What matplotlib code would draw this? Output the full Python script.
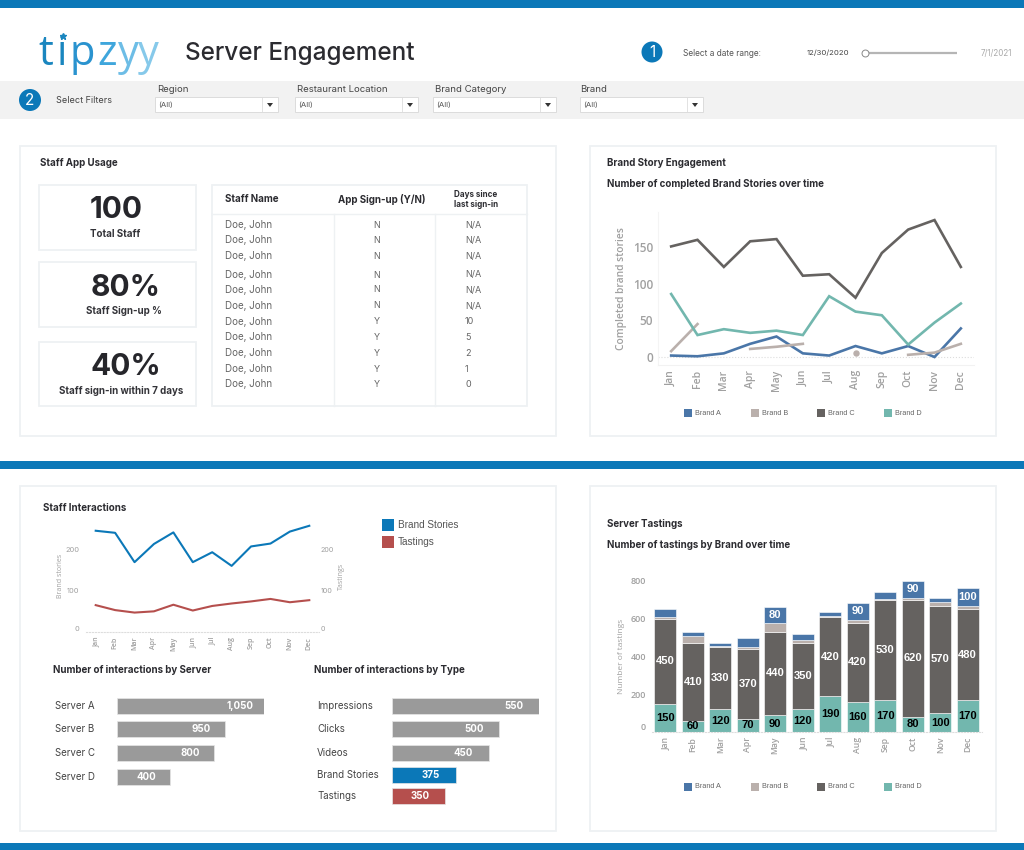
import numpy as np
import matplotlib
matplotlib.use('Agg')
import matplotlib.pyplot as plt
from matplotlib.patches import Rectangle, Circle, Polygon

W, H = 1024, 850
FONT = 'Inter'
CHART_FONT = 'Open Sans'
plt.rcParams['font.family'] = [FONT, 'DejaVu Sans']

months = ['Jan', 'Feb', 'Mar', 'Apr', 'May', 'Jun', 'Jul', 'Aug', 'Sep', 'Oct', 'Nov', 'Dec']

# completed brand stories per brand
stories_a = [2, 1, 5, 18, 28, 5, 2, 15, 5, 15, 0, 39]
stories_b = [8, 45, np.nan, 11, 14, 18, np.nan, 6, np.nan, 3, 6, 18]
stories_c = [151, 160, 123, 158, 161, 111, 113, 81, 142, 174, 187, 123]
stories_d = [86, 30, 38, 33, 36, 30, 83, 62, 57, 17, 47, 73]

# tastings per brand (stack order D, C, B, A)
tastings_a = [40, 25, 20, 50, 80, 30, 23, 90, 40, 90, 20, 100]
tastings_b = [10, 37, 3, 10, 50, 20, 3, 15, 2, 10, 20, 15]
tastings_c = [450, 410, 330, 370, 440, 350, 420, 420, 530, 620, 570, 480]
tastings_d = [150, 60, 120, 70, 90, 120, 190, 160, 170, 80, 100, 170]
labelled_a = [False, False, False, False, True, False, False, True, False, True, False, True]

# staff interactions
inter_stories = [245, 240, 169, 213, 241, 169, 193, 160, 207, 214, 243, 257]
inter_tastings = [65, 53, 47, 50, 66, 52, 63, 69, 74, 80, 72, 77]

# horizontal bars, drawn length differs from the printed number in the original
servers = ['Server A', 'Server B', 'Server C', 'Server D']
server_labels = ['1,050', '950', '800', '400']
server_lengths = [1050, 771, 693, 379]
types = ['Impressions', 'Clicks', 'Videos', 'Brand Stories', 'Tastings']
type_labels = ['550', '500', '450', '375', '350']
type_lengths = [550, 402, 362, 241, 200]

# staff table
staff_names = ['Doe, John'] * 11
staff_signup = ['N', 'N', 'N', 'N', 'N', 'N', 'Y', 'Y', 'Y', 'Y', 'Y']
staff_days = ['N/A', 'N/A', 'N/A', 'N/A', 'N/A', 'N/A', '10', '5', '2', '1', '0']
row_y = [225, 240, 256, 275, 290, 306, 322, 337, 353, 369, 384]

brand_names = ['Brand A', 'Brand B', 'Brand C', 'Brand D']

BLUE = '#0b78b8'
RED = '#b54f4d'
C_A = '#4a76a8'
C_B = '#bab0ac'
C_C = '#656260'
C_D = '#72b7ae'
GREY = '#9a9a9a'
TICK = '#a0a0a0'
BORDER = '#eef1f3'
DARK = '#2b2b30'


def px_axes(x0, y0, x1, y1):
    ax = fig.add_axes([x0 / W, 1 - y1 / H, (x1 - x0) / W, (y1 - y0) / H])
    ax.patch.set_alpha(0)
    return ax


def box(x0, y0, x1, y1, fc='white', ec=BORDER, lw=1.3):
    bg.add_patch(Rectangle((x0, y0), x1 - x0, y1 - y0, fc=fc, ec=ec, lw=lw))


def txt(x, y, s, size=7, color=DARK, weight='normal', ha='left', font=None):
    bg.text(x, y, s, fontsize=size, color=color, fontweight=weight, ha=ha, va='center',
            family=font or FONT)


def style_month_axis(ax, size):
    ax.set_xticks(range(12))
    ax.set_xticklabels(months, rotation=90, fontsize=size, color=TICK, family=CHART_FONT,
                       fontweight='semibold')
    ax.tick_params(axis='both', length=0)
    for s in ax.spines.values():
        s.set_visible(False)


fig = plt.figure(figsize=(W / 100, H / 100), dpi=100, facecolor='white')
bg = fig.add_axes([0, 0, 1, 1])
bg.set_xlim(0, W)
bg.set_ylim(H, 0)
bg.axis('off')

# bands
bg.add_patch(Rectangle((0, 0), W, 8, fc=BLUE, ec='none'))
bg.add_patch(Rectangle((0, 461), W, 8, fc=BLUE, ec='none'))
bg.add_patch(Rectangle((0, 843), W, 7, fc=BLUE, ec='none'))
bg.add_patch(Rectangle((0, 81), W, 38, fc='#f2f2f2', ec='none'))

# logo
logo = [('t', 46, '#1a86bf'), ('i', 62, '#1a86bf'), ('p', 82, '#2a93cf'),
        ('z', 107, '#3fa6dc'), ('y', 128, '#6dbde6'), ('y', 148, '#86c9ea')]
for ch, x, col in logo:
    bg.text(x, 65, ch, fontsize=30, color=col, ha='center', va='baseline', family='Open Sans')
bg.plot([63], [36], marker='*', ms=5, color='#1a86bf', ls='none')

txt(185, 53, 'Server Engagement', size=17.5, color=DARK, weight='medium')

# date range
for cx, cy, r, n in [(652, 52, 10.5, '1'), (30, 100, 11, '2')]:
    bg.add_patch(Circle((cx, cy), r, fc=BLUE, ec='none'))
    bg.text(cx, cy, n, fontsize=11, color='white', ha='center', va='center')
txt(683, 53, 'Select a date range:', size=6.0, color='#555555')
txt(807, 53, '12/30/2020', size=5.6, color='#444444')
bg.plot([865, 957], [53, 53], color='#b5b5b5', lw=1.6, solid_capstyle='butt')
bg.plot([865], [53], marker='o', ms=5, mfc='white', mec='#888888', mew=0.7)
txt(981, 53, '7/1/2021', size=5.8, color='#aaaaaa')

# filters
txt(56, 100, 'Select Filters', size=6.5, color='#444444')
filters = ['Region', 'Restaurant Location', 'Brand Category', 'Brand']
filter_x = [155, 295, 433, 580]
for name, x in zip(filters, filter_x):
    txt(x + 2 if name != 'Brand' else x, 89, name, size=6.9, color='#444444')
    box(x, 97, x + 123, 112, ec='#dcdcdc', lw=0.7)
    txt(x + 3, 104.5, '(All)', size=5.6, color='#555555')
    bg.plot([x + 107, x + 107], [97, 112], color='#dddddd', lw=0.6)
    bg.add_patch(Polygon([[x + 112, 103], [x + 118, 103], [x + 115, 107]], fc='#333333', ec='none'))

# panels
box(20, 146, 556, 436)
box(590, 146, 996, 436)
box(20, 486, 556, 831)
box(590, 486, 996, 831)

txt(40, 163, 'Staff App Usage', size=7, weight='bold')
txt(607, 163, 'Brand Story Engagement', size=7, weight='bold')
txt(607, 184, 'Number of completed Brand Stories over time', size=7, weight='bold')
txt(43, 508, 'Staff Interactions', size=7, weight='bold')
txt(607, 524, 'Server Tastings', size=7, weight='bold')
txt(607, 545, 'Number of tastings by Brand over time', size=7, weight='bold')
txt(53, 670, 'Number of interactions by Server', size=7, weight='bold')
txt(314, 670, 'Number of interactions by Type', size=7, weight='bold')

# KPI cards
kpis = [('100', 'Total Staff', 185, 250, 116, 115, 210, 234),
        ('80%', 'Staff Sign-up %', 262, 327, 126, 124, 288, 311),
        ('40%', 'Staff sign-in within 7 days', 342, 406, 126, 121, 367, 391)]
for big, small, y0, y1, xb, xs, yb, ys in kpis:
    box(39, y0, 196, y1)
    txt(xb, yb, big, size=21.5, weight='bold', ha='center', color='#26262b')
    txt(xs, ys, small, size=7, weight='bold', ha='center', color='#333338')

# staff table
box(212, 185, 527, 406)
bg.plot([212, 527], [214, 214], color=BORDER, lw=1)
bg.plot([334, 334], [214, 406], color=BORDER, lw=1)
bg.plot([435, 435], [214, 406], color=BORDER, lw=1)
txt(225, 199, 'Staff Name', size=7, weight='bold')
txt(382, 199, 'App Sign-up (Y/N)', size=7, weight='bold', ha='center')
txt(454, 194, 'Days since', size=5.8, weight='bold')
txt(454, 204, 'last sign-in', size=5.8, weight='bold')
for y, name, su, d in zip(row_y, staff_names, staff_signup, staff_days):
    txt(225, y, name, size=7, color='#666666')
    txt(377, y, su, size=6.5, color='#666666', ha='center')
    txt(465, y, d, size=6.5, color='#666666')

# brand story lines
ax1 = px_axes(658, 212, 974, 365)
ax1.set_xlim(-0.5, 11.5)
ax1.set_ylim(-10.9, 198)
style_month_axis(ax1, 7.5)
ax1.spines['bottom'].set_visible(True)
ax1.spines['bottom'].set_color('#f2f2f2')
ax1.spines['left'].set_visible(True)
ax1.spines['left'].set_color('#f4f4f4')
ax1.axhline(0, color='#dddddd', lw=0.8, ls=':')
for vals, col in [(stories_a, C_A), (stories_b, C_B), (stories_c, C_C), (stories_d, C_D)]:
    ax1.plot(range(12), vals, color=col, lw=1.9, solid_joinstyle='miter')
ax1.plot(range(12)[7], stories_b[7], 'o', color=C_B, ms=3.6)
ax1.set_yticks([0, 50, 100, 150])
ax1.tick_params(axis='y', labelsize=8.5, labelcolor=TICK)
for lab in ax1.get_yticklabels():
    lab.set_family(CHART_FONT)
    lab.set_fontweight('semibold')
ax1.set_ylabel('Completed brand stories', fontsize=7.4, color=TICK, family=CHART_FONT,
               fontweight='semibold', labelpad=4)

# stacked tastings bars
ax2 = px_axes(651.5, 581, 981.5, 732)
ax2.set_xlim(-0.5, 11.5)
ax2.set_ylim(0, 800)
style_month_axis(ax2, 6.2)
ax2.spines['bottom'].set_visible(True)
ax2.spines['bottom'].set_color('#dddddd')
ax2.spines['bottom'].set_linestyle(':')
bottom = np.zeros(12)
for vals, col in [(tastings_d, C_D), (tastings_c, C_C), (tastings_b, C_B), (tastings_a, C_A)]:
    ax2.bar(range(12), vals, bottom=bottom, width=0.79, color=col, edgecolor='white', linewidth=0.4)
    if col == C_D or col == C_C:
        for i, v in enumerate(vals):
            ax2.text(i, bottom[i] + v / 2, str(v), ha='center', va='center', fontsize=8, fontweight='bold',
                     family='Liberation Sans', color='black' if col == C_D else 'white')
    if col == C_A:
        for i, v in enumerate(vals):
            if labelled_a[i]:
                ax2.text(i, bottom[i] + v / 2, str(v), ha='center', va='center', fontsize=8, fontweight='bold',
                         family='Liberation Sans', color='white')
    bottom += np.array(vals)
ax2.set_yticks([0, 200, 400, 600, 800])
ax2.tick_params(axis='y', labelsize=6.5, labelcolor=TICK, pad=4)
for lab in ax2.get_yticklabels():
    lab.set_family(CHART_FONT)
    lab.set_fontweight('semibold')
ax2.get_yticklabels()[0].set_va('bottom')
ax2.set_ylabel('Number of tastings', fontsize=6, color=TICK, family=CHART_FONT, labelpad=4)

# staff interaction lines, dual axis
ax3 = px_axes(86, 520, 319, 632)
ax3.set_xlim(-0.5, 11.5)
ax3.set_ylim(0, 271)
style_month_axis(ax3, 5)
ax3.spines['bottom'].set_visible(True)
ax3.spines['bottom'].set_color('#dddddd')
ax3.spines['bottom'].set_linestyle(':')
ax3.plot(range(12), inter_stories, color=BLUE, lw=1.5)
ax3.set_yticks([0, 100, 200])
ax3.tick_params(axis='y', labelsize=5.4, labelcolor=TICK, pad=5)
ax3.get_yticklabels()[0].set_va('bottom')
ax3.set_ylabel('Brand stories', fontsize=5, color=TICK, family=CHART_FONT, labelpad=1)
ax3b = ax3.twinx()
ax3b.patch.set_alpha(0)
ax3b.set_ylim(0, 271)
for s in ax3b.spines.values():
    s.set_visible(False)
ax3b.plot(range(12), inter_tastings, color=RED, lw=1.5)
ax3b.set_yticks([0, 100, 200])
ax3b.tick_params(axis='y', length=0, labelsize=5.2, labelcolor=TICK, pad=1)
ax3b.get_yticklabels()[0].set_va('bottom')
ax3b.set_ylabel('Tastings', fontsize=5, color=TICK, family=CHART_FONT, labelpad=3)

bg.add_patch(Rectangle((382, 519), 12, 12, fc=BLUE, ec='none'))
bg.add_patch(Rectangle((382, 536), 12, 12, fc=RED, ec='none'))
txt(398, 525, 'Brand Stories', size=7.2, color='#555555', font='Liberation Sans')
txt(398, 542, 'Tastings', size=7.2, color='#555555', font='Liberation Sans')

# horizontal bars
ax4 = px_axes(117, 690, 264.3, 790)
ax4.set_xlim(0, 1050)
ax4.set_ylim(790, 690)
ax4.axis('off')
server_y = [706, 729, 753, 777]
ax4.barh(server_y, server_lengths, height=16.5, color=GREY, edgecolor='#e6e6e6', linewidth=0.5)
for y, lab, v, name in zip(server_y, server_labels, server_lengths, servers):
    ax4.text(v - 170, y, lab, ha='center', va='center', fontsize=7, fontweight='bold', color='white')
    txt(55, y, name, size=7, color='#444444')

ax5 = px_axes(391.5, 690, 539, 810)
ax5.set_xlim(0, 550)
ax5.set_ylim(810, 690)
ax5.axis('off')
type_y = [706, 729, 753, 775, 796]
type_colors = [GREY, GREY, GREY, BLUE, RED]
ax5.barh(type_y, type_lengths, height=16.5, color=type_colors, edgecolor='#e6e6e6', linewidth=0.5)
for y, lab, v, name in zip(type_y, type_labels, type_lengths, types):
    ax5.text(v - 95, y, lab, ha='center', va='center', fontsize=7, fontweight='bold', color='white')
    txt(317, y, name, size=7, color='#444444')

# brand legends for the two right charts
legend_x = [684, 751, 817, 884]
for y in [413, 787]:
    for x, name, col in zip(legend_x, brand_names, [C_A, C_B, C_C, C_D]):
        bg.add_patch(Rectangle((x, y - 4), 8, 8, fc=col, ec='none'))
        txt(x + 11, y, name, size=5.2, color='#666666', font='Liberation Sans')

fig.savefig('out.png', dpi=100)
